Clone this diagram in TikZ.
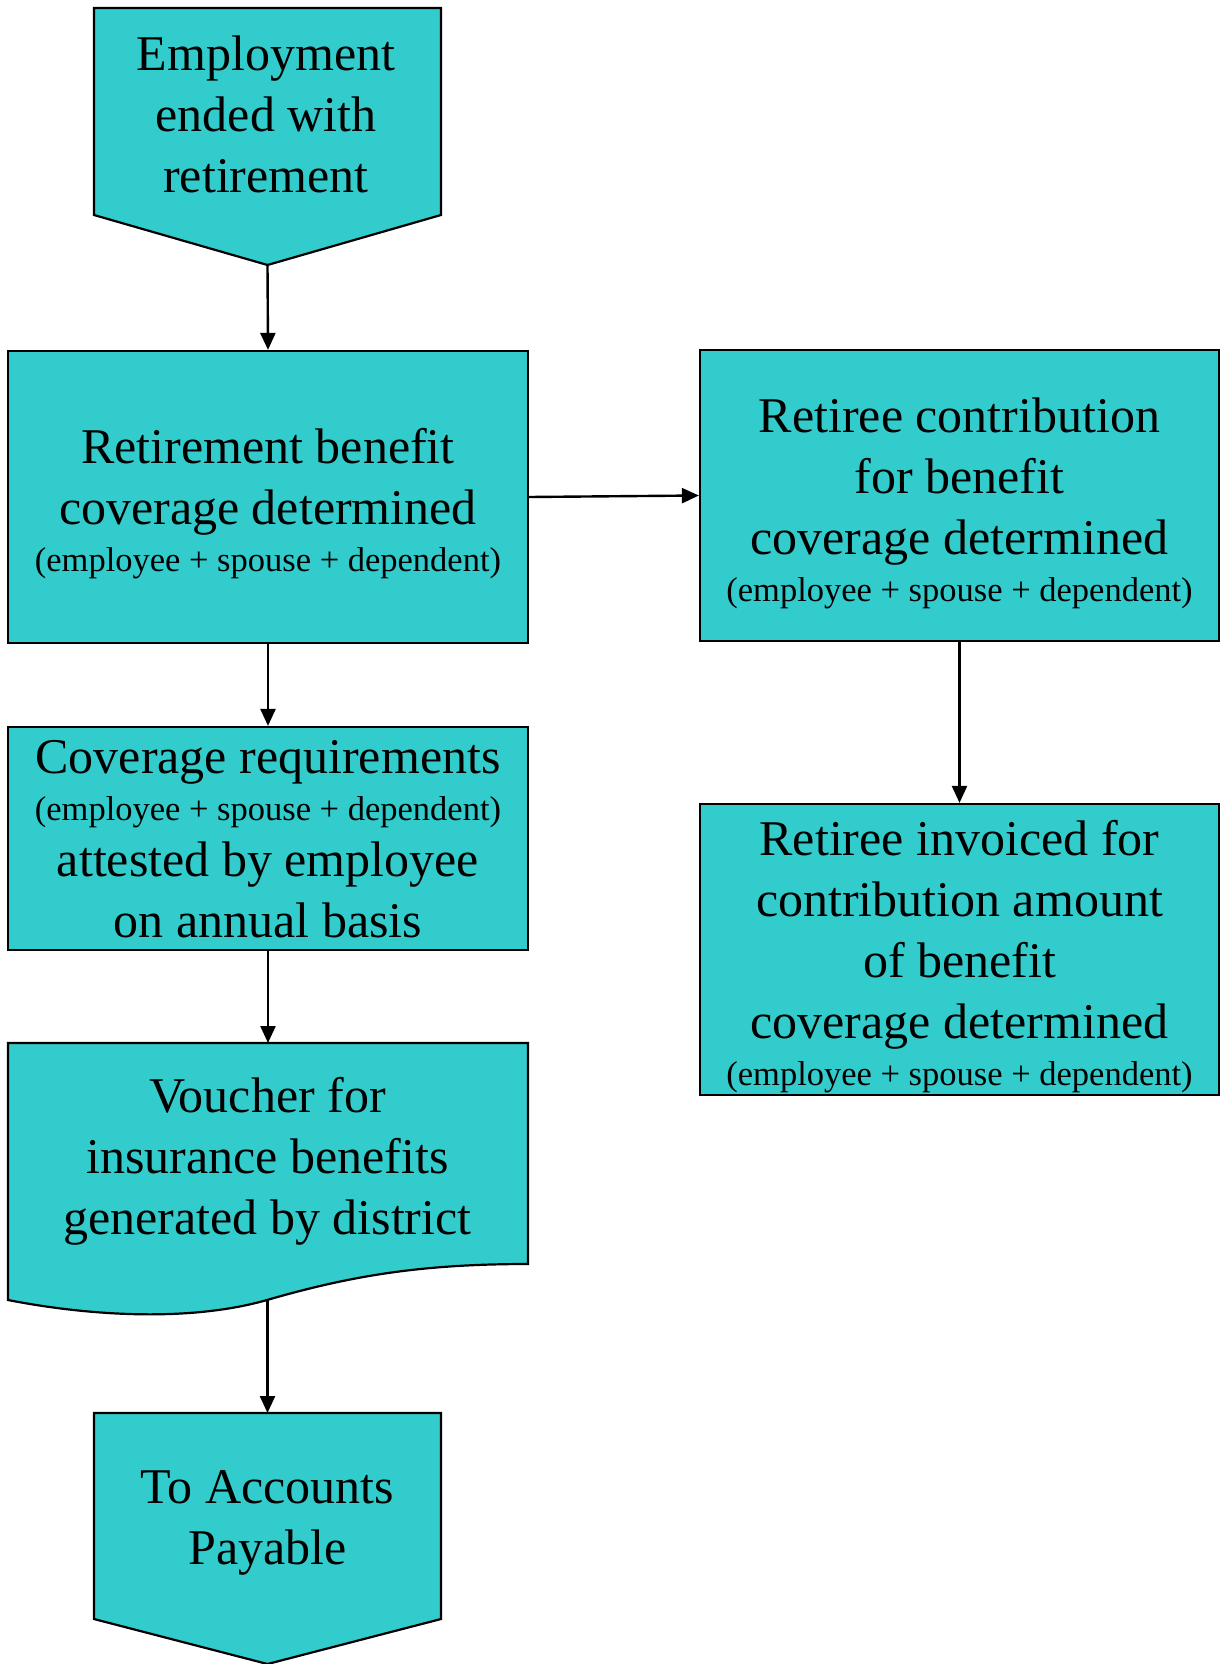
\documentclass[tikz,border=0pt]{standalone}
\usepackage{fontspec}
\setmainfont{Liberation Serif}
\usetikzlibrary{arrows.meta}
\definecolor{turq}{HTML}{33CCCC}
\newcommand\mainsz{\fontsize{50}{61}\selectfont}
\newcommand\subsz{\fontsize{34.5}{40}\selectfont}
\tikzset{
  boxst/.style={draw=black, fill=turq, line width=2.2pt, rectangle, inner sep=0pt},
  shapest/.style={draw=black, fill=turq, line width=2.2pt, line join=miter},
  txt/.style={align=center, inner sep=0pt, font=\mainsz},
  link/.style={draw=black, line width=2.4pt, -{Triangle[length=17pt,width=15pt]}}
}
\begin{document}
\begin{tikzpicture}[x=1pt,y=-1pt]
\useasboundingbox (0,0) rectangle (1226,1664);
% start chevron
\draw[shapest] (94,8) -- (441,8) -- (441,215) -- (267.5,265) -- (94,215) -- cycle;
\coordinate (emptip) at (267.5,265);
\node[txt] (empt) at (266,114) {Employment\\ended with\\retirement};
% boxes
\node[boxst, minimum width=520pt, minimum height=292pt] (rb) at (268,497) {};
\node[txt] (rbt) at (268,504) {Retirement benefit\\coverage determined\\[-14pt]{\subsz (employee + spouse + dependent)}};
\node[boxst, minimum width=519pt, minimum height=291pt] (rc) at (959.5,495.5) {};
\node[txt] (rct) at (959.5,503.5) {Retiree contribution\\for benefit\\coverage determined\\[-14pt]{\subsz (employee + spouse + dependent)}};
\node[boxst, minimum width=520pt, minimum height=223pt] (cr) at (268,838.5) {};
\node[txt] (crt) at (268,839.5) {Coverage requirements\\[-14pt]{\subsz (employee + spouse + dependent)}\\[-5pt]attested by employee\\on annual basis};
\node[boxst, minimum width=519pt, minimum height=291pt] (ri) at (959.5,949.5) {};
\node[txt] (rit) at (959.5,957) {Retiree invoiced for\\contribution amount\\of benefit\\coverage determined\\[-14pt]{\subsz (employee + spouse + dependent)}};
% voucher document shape
\draw[shapest] (8,1043) -- (528,1043) -- (528,1264) .. controls (420,1264) and (350,1276) .. (267,1300) .. controls (190,1322) and (90,1316) .. (8,1300) -- cycle;
\coordinate (vtop) at (268,1043);
\coordinate (vbot) at (267.5,1300);
\node[txt] (vt) at (267.5,1161) {Voucher for\\insurance benefits\\generated by district};
% end chevron
\draw[shapest] (94,1413) -- (441,1413) -- (441,1619) -- (267.5,1664) -- (94,1619) -- cycle;
\coordinate (aptop) at (267.5,1413);
\node[txt] (apt) at (267.5,1523) {To Accounts\\Payable};
% connectors
\draw[link] (emptip) -- (rb.north);
\draw[link] (rb.east) -- (rc.west);
\draw[link] (rb.south) -- (cr.north);
\draw[link] (cr.south) -- (vtop);
\draw[link] (vbot) -- (aptop);
\draw[link] (rc.south) -- (ri.north);
\end{tikzpicture}
\end{document}
